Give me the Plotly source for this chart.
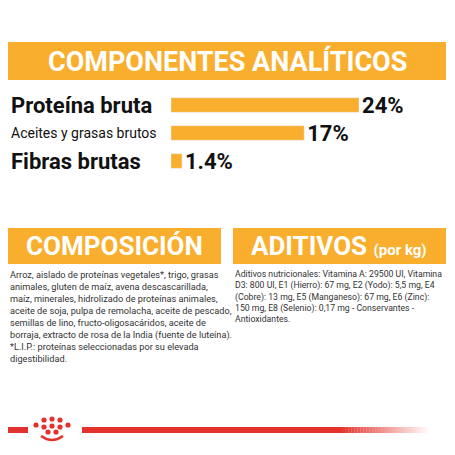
import plotly.graph_objects as go

categories = ["Proteína bruta", "Aceites y grasas brutos", "Fibras brutas"]
values = [24, 17, 1.4]
value_labels = ["24%", "17%", "1.4%"]

W = H = 455
OFF = 8  # page body margin
ORANGE = "#F9AE2D"
RED = "#E2322B"
HEAD = "Roboto"
def py(p): return 1 - (p - OFF) / H
def px(p): return (p - OFF) / W

fig = go.Figure(go.Bar(
    x=values, y=[0, 1, 2], orientation="h", marker_color=ORANGE, width=0.52,
    text=value_labels, textposition="outside", cliponaxis=False, constraintext="none",
    textfont=dict(family=HEAD, size=22, color="#111"),
    texttemplate="<b>%{text}</b>", hoverinfo="skip"))

fig.update_layout(
    width=W, height=H, margin=dict(l=0, r=0, t=0, b=0),
    paper_bgcolor="white", plot_bgcolor="rgba(0,0,0,0)", showlegend=False,
    xaxis=dict(domain=[px(171), px(359)], range=[0, 24], visible=False),
    yaxis=dict(domain=[py(175), py(91)], range=[2.5, -0.5], visible=False),
)

shapes = [
    dict(type="rect", xref="paper", yref="paper", x0=px(8), x1=px(446), y0=py(80), y1=py(42), fillcolor=ORANGE, line_width=0, layer="below"),
    dict(type="rect", xref="paper", yref="paper", x0=px(8), x1=px(221), y0=py(264), y1=py(228), fillcolor=ORANGE, line_width=0),
    dict(type="rect", xref="paper", yref="paper", x0=px(233), x1=px(446), y0=py(264), y1=py(228), fillcolor=ORANGE, line_width=0),
    dict(type="rect", xref="paper", yref="paper", x0=px(0), x1=px(28), y0=py(433), y1=py(427), fillcolor=RED, line_width=0),
]
n = 30
x_start, x_full, x_end = 82, 340, 428
shapes.append(dict(type="rect", xref="paper", yref="paper", x0=px(x_start), x1=px(x_full), y0=py(433), y1=py(427), fillcolor=RED, line_width=0))
for i in range(n):
    a = x_full + (x_end - x_full) * i / n
    b = x_full + (x_end - x_full) * (i + 1) / n
    shapes.append(dict(type="rect", xref="paper", yref="paper", x0=px(a), x1=px(b), y0=py(433), y1=py(427),
                       fillcolor=RED, opacity=1 - i / n, line_width=0))
dots = [(36, 425), (44, 420), (52, 419), (60, 420), (68, 425), (44, 427), (52, 426), (60, 427), (48, 432), (56, 432)]
for cx, cy in dots:
    shapes.append(dict(type="circle", xref="paper", yref="paper", x0=px(cx - 2.6), x1=px(cx + 2.6), y0=py(cy + 2.6), y1=py(cy - 2.6), fillcolor=RED, line_width=0))
shapes.append(dict(type="path", xref="paper", yref="paper",
                   path=f"M {px(41)} {py(436)} Q {px(52)} {py(444)} {px(63)} {py(436)}",
                   line=dict(color=RED, width=2.5)))
fig.update_layout(shapes=shapes)

ann = []
def add(x, y, text, size, color="#111", family=HEAD, xanchor="left"):
    ann.append(dict(xref="paper", yref="paper", x=px(x), y=py(y), text=text, showarrow=False,
                    xanchor=xanchor, yanchor="middle", align="left",
                    font=dict(size=size, color=color, family=family)))

add(227, 61, "<b>COMPONENTES ANALÍTICOS</b>", 27, "white", xanchor="center")
add(9, 105, "<b>Proteína bruta</b>", 22)
add(9, 133, "Aceites y grasas brutos", 14)
add(9, 161, "<b>Fibras brutas</b>", 22)
add(114, 246, "<b>COMPOSICIÓN</b>", 26, "white", xanchor="center")
add(339, 246, "<b>ADITIVOS</b> <b><span style='font-size:15px'>(por kg)</span></b>", 26, "white", xanchor="center")

left_txt = ("Arroz, aislado de proteínas vegetales*, trigo, grasas<br>"
            "animales, gluten de maíz, avena descascarillada,<br>"
            "maíz, minerales, hidrolizado de proteínas animales,<br>"
            "aceite de soja, pulpa de remolacha, aceite de pescado,<br>"
            "semillas de lino, fructo-oligosacáridos, aceite de<br>"
            "borraja, extracto de rosa de la India (fuente de luteína).<br>"
            "*L.I.P.: proteínas seleccionadas por su elevada<br>"
            "digestibilidad.")
right_txt = ("Aditivos nutricionales: Vitamina A: 29500 UI, Vitamina<br>"
             "D3: 800 UI, E1 (Hierro): 67 mg, E2 (Yodo): 5,5 mg, E4<br>"
             "(Cobre): 13 mg, E5 (Manganeso): 67 mg, E6 (Zinc):<br>"
             "150 mg, E8 (Selenio): 0,17 mg - Conservantes -<br>"
             "Antioxidantes.")
for x, t, s in [(8, left_txt, 9.2), (233, right_txt, 8.7)]:
    ann.append(dict(xref="paper", yref="paper", x=px(x), y=py(267), text=t, showarrow=False,
                    xanchor="left", yanchor="top", align="left",
                    font=dict(size=s, color="#333", family="Roboto")))
fig.update_layout(annotations=ann)

fig.write_html("out.html")
